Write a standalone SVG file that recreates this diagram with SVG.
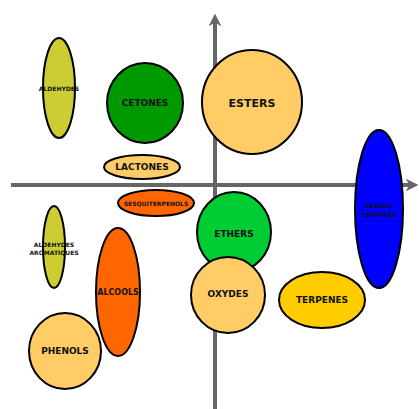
<svg xmlns="http://www.w3.org/2000/svg" width="419" height="409" viewBox="0 0 419 409">
<style>
.n{stroke:#000;stroke-width:2}
text{font-family:"DejaVu Sans",sans-serif;font-weight:bold;text-anchor:middle;dominant-baseline:central;fill:#111}
.s{font-size:9px}
.a{font-size:8px}
.xs{font-size:6px}
.l{font-size:11px}
.ax{stroke:#666;stroke-width:4;fill:none}
</style>
<defs>
<marker id="ah" viewBox="0 0 10 10" refX="5" refY="5" markerWidth="3.2" markerHeight="3.2" orient="auto" markerUnits="strokeWidth">
<path d="M0,0 L10,5 L0,10 L3,5 z" fill="#666"/>
</marker>
</defs>
<g id="connectors">
<line class="ax" x1="11" y1="185" x2="412" y2="185" marker-end="url(#ah)"/>
<line class="ax" x1="215" y1="409" x2="215" y2="20" marker-end="url(#ah)"/>
</g>
<g id="aldehydes"><ellipse class="n" cx="59" cy="88" rx="16" ry="50" fill="#cccc33"/><text class="xs" x="59" y="88">ALDEHYDES</text></g>
<g id="cetones"><ellipse class="n" cx="145" cy="103" rx="38" ry="40" fill="#009900"/><text class="s" x="145" y="103">CETONES</text></g>
<g id="esters"><ellipse class="n" cx="252" cy="102" rx="50" ry="52" fill="#ffcc66"/><text class="l" x="252" y="103">ESTERS</text></g>
<g id="lactones"><ellipse class="n" cx="142" cy="167" rx="38" ry="12" fill="#ffcc66"/><text class="s" x="142" y="167">LACTONES</text></g>
<g id="sesquiterpenols"><ellipse class="n" cx="156" cy="203" rx="38" ry="13" fill="#ff6600"/><text class="xs" x="156" y="203">SESQUITERPENOLS</text></g>
<g id="sesquiterpenes"><ellipse class="n" cx="379" cy="209" rx="24" ry="79" fill="#0000ff"/><text class="xs" x="379" y="205">SESQUI-</text><text class="xs" x="379" y="214">TERPENES</text></g>
<g id="aldehydes-aromatiques"><ellipse class="n" cx="54" cy="247" rx="11" ry="41" fill="#cccc33"/><text class="xs" x="54" y="244">ALDEHYDES</text><text class="xs" x="54" y="252">AROMATIQUES</text></g>
<g id="ethers"><ellipse class="n" cx="234" cy="232" rx="37" ry="40" fill="#00cc33"/><text class="s" x="234" y="234">ETHERS</text></g>
<g id="oxydes"><ellipse class="n" cx="228" cy="295" rx="37" ry="38" fill="#ffcc66"/><text class="s" x="228" y="294">OXYDES</text></g>
<g id="alcools"><ellipse class="n" cx="118" cy="292" rx="22" ry="64" fill="#ff6600"/><text class="a" x="118" y="292">ALCOOLS</text></g>
<g id="phenols"><ellipse class="n" cx="65" cy="351" rx="36" ry="38" fill="#ffcc66"/><text class="s" x="65" y="351">PHENOLS</text></g>
<g id="terpenes"><ellipse class="n" cx="322" cy="300" rx="43" ry="28" fill="#ffcc00"/><text class="s" x="322" y="300">TERPENES</text></g>
</svg>
